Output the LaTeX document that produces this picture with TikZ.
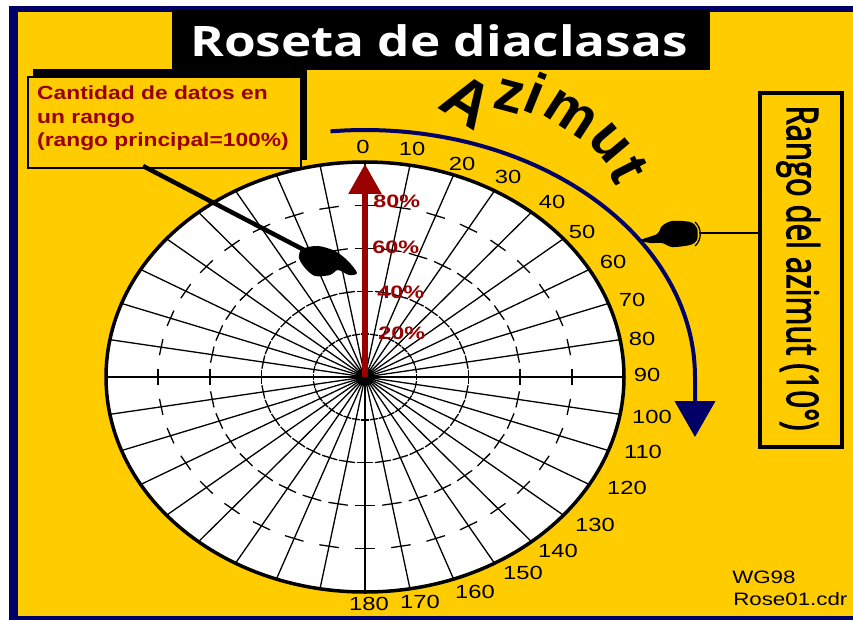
\documentclass[tikz,border=0pt]{standalone}
\usepackage{fontspec}
\setmainfont{Liberation Sans}
\newfontfamily\osans{Open Sans}
\newfontfamily\osansm[FakeBold=3]{Open Sans}
\usetikzlibrary{arrows.meta}
\definecolor{yel}{HTML}{FFCC00}
\definecolor{navyb}{HTML}{000066}
\definecolor{dred}{HTML}{990000}
\begin{document}
\begin{tikzpicture}[x=1pt,y=-1pt,
  spoke/.style={line width=1.3pt},
  ringtick/.style={line width=1.3pt},
  nlab/.style={font=\fontsize{19}{20}\selectfont, xscale=1.25, inner sep=0pt},
  pct/.style={font=\bfseries\fontsize{18}{18}\selectfont, xscale=1.3, text=dred, inner sep=0pt, anchor=west},
  boxtxt/.style={font=\bfseries\fontsize{19}{19}\selectfont, xscale=1.2, text=dred, inner sep=0pt, anchor=base west},
  smalltxt/.style={font=\fontsize{18}{18}\selectfont, xscale=1.24, inner sep=0pt, anchor=base west},
  azl/.style={font=\bfseries\fontsize{58}{58}\selectfont, inner sep=0pt},
  handfill/.style={fill=black}]
\useasboundingbox (0,0) rectangle (853,620);
\fill[white] (0,0) rectangle (853,620);
\fill[navyb] (9,6) rectangle (853,620);
\fill[yel] (18,12) rectangle (853,616);

% rose
\coordinate (C) at (365,377);
\fill[white] (C) ellipse [x radius=259, y radius=215];
\foreach \s in {0.2,0.4,0.6,0.8}{
  \foreach \a in {0,10,...,350}{
    \pgfmathsetmacro\dd{min(4.5,9/(\s*237)*57.2958)}
    \draw[ringtick] ({365+259*\s*sin(\a-\dd)},{377-215*\s*cos(\a-\dd)}) -- ({365+259*\s*sin(\a+\dd)},{377-215*\s*cos(\a+\dd)});
  }
}
\foreach \a in {0,10,...,350}{
  \draw[spoke] (C) -- ({365+259*sin(\a)},{377-215*cos(\a)});
}
\draw[line width=3.5pt] (C) ellipse [x radius=259, y radius=215];
\fill (C) circle (9);

% red arrow
\coordinate (tipR) at (365,164);
\draw[dred, line width=5.5pt, -{Triangle[width=32pt,length=30pt]}] (C) -- (tipR);
\node[pct] (p80) at (373,201) {80\%};
\node[pct] (p60) at (372,247) {60\%};
\node[pct] (p40) at (377,292) {40\%};
\node[pct] (p20) at (378,333) {20\%};

% azimuth labels
\foreach \lab/\px/\py in {0/363/147,10/412/149,20/462/164,30/508/177,40/552/202,50/582/232,60/613/262,70/632/300,80/642/339,90/647/375,100/652/417,110/643/452,120/627/488,130/595/525,140/558/551,150/523/573,160/475/592,170/420/602,180/369/604}{
  \node[nlab] (n\lab) at (\px,\py) {\lab};
}

% blue arc
\coordinate (bArcEnd) at (695,437);
\draw[navyb, line width=4pt, -{Triangle[width=40pt,length=36pt]}]
  plot[smooth, domain=-6:90, samples=40] ({365+330*sin(\x)},{377-247*cos(\x)}) -- (bArcEnd);

% Azimut curved, letter by letter
\node[azl, font=\bfseries\fontsize{64}{64}\selectfont, rotate=-32] (az1) at (468,101) {A};
\node[azl, rotate=-15] (az2) at (509,96) {z};
\node[azl, rotate=-22] (az3) at (536,93) {i};
\node[azl, rotate=-33] (az4) at (571,114) {m};
\node[azl, rotate=-50] (az5) at (609,143) {u};
\node[azl, rotate=-63] (az6) at (629,170) {t};

% title
\fill[black] (172,10) rectangle (710,70);
\node[text=white, font=\osans\bfseries\fontsize{42}{42}\selectfont, xscale=1.22, inner sep=0pt, anchor=base] (title) at (439,57) {Roseta de diaclasas};

% left box
\fill[black] (33,69) rectangle (307,160);
\node[draw, line width=2pt, fill=yel, minimum width=273pt, minimum height=91pt, anchor=north west, inner sep=0pt] (lbox) at (27,76) {};
\node[boxtxt] (l1) at (37,100) {Cantidad de datos en};
\node[boxtxt] (l2) at (37,123.5) {un rango};
\node[boxtxt] (l3) at (37,147) {(rango principal=100\%)};

% left hand
\coordinate (la) at (143,166);
\coordinate (lh) at (308,252);
\draw[line width=4.5pt] (la) -- (lh);
\fill[handfill] plot[smooth cycle] coordinates {(302,249) (318,246) (335,251) (348,261) (357,273) (349,275) (338,270) (330,275) (315,276) (305,268) (299,258)};

% right box
\node[draw, line width=4pt, minimum width=82pt, minimum height=354pt, inner sep=0pt] (rbox) at (801,270) {};
\node[font=\osansm\fontsize{31}{31}\selectfont, rotate=-90, yscale=1.4, inner sep=0pt, anchor=base] (rtxt) at (787,268) {Rango del azimut (10°)};

% right hand
\coordinate (rh) at (699,233);
\draw[line width=2.2pt] (rh) -- (rh -| rbox.west);
\fill[handfill] plot[smooth cycle] coordinates {(697,228) (690,222) (672,221) (662,226) (657,234) (641,240) (650,243) (662,243) (672,247) (690,245) (697,240)};
\draw[line width=1.3pt] (695,222) .. controls (702,228) and (702,240) .. (695,246);

% signature
\node[smalltxt] (wg) at (732,583) {WG98};
\node[smalltxt] (rose) at (733,605) {Rose01.cdr};
\end{tikzpicture}
\end{document}
